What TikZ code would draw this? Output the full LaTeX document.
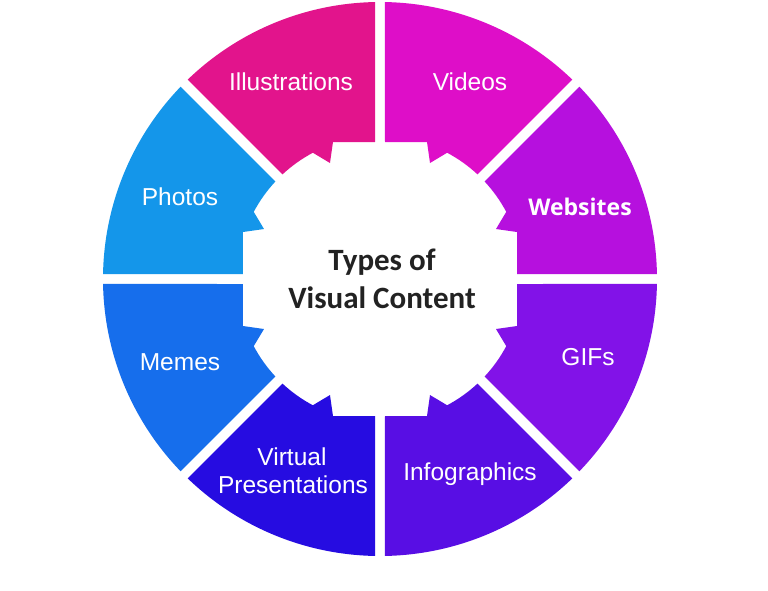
\documentclass[tikz,border=0pt]{standalone}
\usepackage{fontspec}
\setmainfont{Liberation Sans}
\newfontfamily\titlefont{Carlito}
\newfontfamily\webfont{Open Sans}
\definecolor{illuC}{RGB}{226,20,140}
\definecolor{videoC}{RGB}{222,14,200}
\definecolor{webC}{RGB}{182,16,222}
\definecolor{gifC}{RGB}{130,18,232}
\definecolor{infoC}{RGB}{88,14,228}
\definecolor{virtC}{RGB}{38,12,225}
\definecolor{memeC}{RGB}{22,110,236}
\definecolor{photoC}{RGB}{20,150,234}
\definecolor{titleC}{RGB}{34,34,34}
\begin{document}
\begin{tikzpicture}[x=1pt,y=1pt,
  seglabel/.style={text=white, font=\fontsize{24.5}{28}\selectfont, align=center, anchor=base, inner sep=0pt},
  titlelabel/.style={text=titleC, font=\titlefont\bfseries\fontsize{31}{38}\selectfont, anchor=base, inner sep=0pt}]
\useasboundingbox (-380,-311) rectangle (388,279);
\fill[white] (-380,-311) rectangle (388,279);
\foreach \a/\b/\c/\d/\col in {1/0/0/1/illuC, -1/0/0/1/videoC, 0/-1/-1/0/photoC, 0/1/-1/0/memeC, 1/0/0/-1/virtC, -1/0/0/-1/infoC, 0/1/1/0/gifC, 0/-1/1/0/webC}{
  \fill[\col, cm={\a,\b,\c,\d,(0,0)}]
    (91.03:277) arc[start angle=91.03, end angle=133.97, radius=277pt]
    -- (133.0:143) arc[start angle=133.0, end angle=118, radius=143pt]
    -- (-50,116) -- (-47,137) -- (-5,137) -- cycle;
}
\node[seglabel] (illu) at (-89,189) {Illustrations};
\node[seglabel] (video) at (90,189) {Videos};
\node[seglabel] (photo) at (-200,74) {Photos};
\node[seglabel, font=\webfont\bfseries\fontsize{23}{28}\selectfont] (web) at (200,64) {Websites};
\node[seglabel] (meme) at (-200,-91) {Memes};
\node[seglabel] (gif) at (208,-86) {GIFs};
\node[seglabel] (virt) at (-88,-186) {Virtual};
\node[seglabel] (pres) at (-87,-214) {Presentations};
\node[seglabel] (info) at (90,-201) {Infographics};
\node[titlelabel] (t1) at (2,9) {Types of};
\node[titlelabel] (t2) at (2,-29) {Visual Content};
\end{tikzpicture}
\end{document}
